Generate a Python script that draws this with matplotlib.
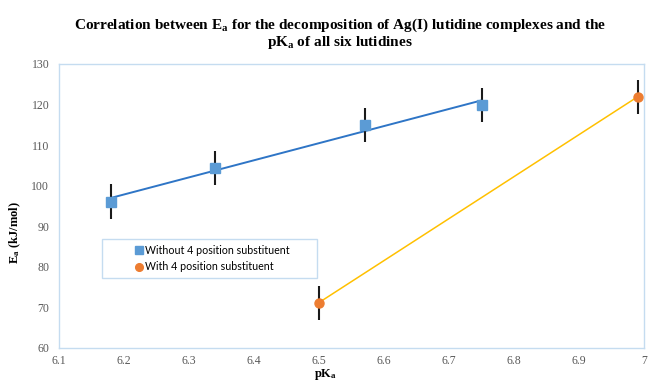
import matplotlib
matplotlib.use('Agg')
import matplotlib.pyplot as plt
from matplotlib.patches import Rectangle
from matplotlib.ticker import FuncFormatter
import numpy as np

# Lutidines without a 4-position substituent
pka_without = [6.18, 6.34, 6.57, 6.75]
ea_without = [96.1, 104.3, 115.0, 119.8]
err_without = [4.2, 4.2, 4.2, 4.2]

# Lutidines with a 4-position substituent
pka_with = [6.50, 6.99]
ea_with = [71.2, 121.9]
err_with = [4.2, 4.2]

labels = ['Without 4 position substituent', 'With 4 position substituent']
xticks = [6.1, 6.2, 6.3, 6.4, 6.5, 6.6, 6.7, 6.8, 6.9, 7.0]
yticks = [60, 70, 80, 90, 100, 110, 120, 130]

plt.rcParams.update({'mathtext.fontset': 'custom',
                     'mathtext.rm': 'Liberation Serif',
                     'mathtext.bf': 'Liberation Serif:bold',
                     'mathtext.it': 'Liberation Serif:italic'})

W, H = 648, 386
fig = plt.figure(figsize=(W / 100, H / 100), dpi=100)
ax = fig.add_axes([59 / W, 1 - 348 / H, 585 / W, 284 / H])

frame_col = '#c5dcf0'
for s in ax.spines.values():
    s.set_color(frame_col)
    s.set_linewidth(1.0)

# linear trendlines from the data
for xs, ys, col, lw in [(pka_without, ea_without, '#2e75c6', 1.4),
                        (pka_with, ea_with, '#ffc000', 1.1)]:
    k, b = np.polyfit(xs, ys, 1)
    xx = np.array([min(xs), max(xs)])
    ax.plot(xx, k * xx + b, color=col, lw=lw, zorder=2)

ax.errorbar(pka_without, ea_without, yerr=err_without, fmt='none', ecolor='#1a1a1a',
            elinewidth=1.5, capsize=0, zorder=3)
ax.errorbar(pka_with, ea_with, yerr=err_with, fmt='none', ecolor='#1a1a1a',
            elinewidth=1.5, capsize=0, zorder=3)
h1, = ax.plot(pka_without, ea_without, ls='none', marker='s', ms=6.5, color='#5b9bd5',
              mec='#5b9bd5', zorder=4, label=labels[0])
h2, = ax.plot(pka_with, ea_with, ls='none', marker='o', ms=6.5, color='#ed7d31',
              mec='#ed7d31', zorder=4, label=labels[1])

ax.set_xlim(6.1, 7.0)
ax.set_ylim(60, 130)
ax.set_xticks(xticks)
ax.set_yticks(yticks)
ax.xaxis.set_major_formatter(FuncFormatter(lambda v, p: f'{v:g}'))
ax.tick_params(length=0, colors='#595959', labelsize=8.5)
ax.tick_params(axis='x', pad=5)
ax.tick_params(axis='y', pad=7)
for t in ax.get_xticklabels() + ax.get_yticklabels():
    t.set_fontfamily('Liberation Serif')

# legend with its own frame
x0, x1, y0, y1 = 0.073, 0.4405, 0.246, 0.383
ax.add_patch(Rectangle((x0, y0), x1 - x0, y1 - y0, transform=ax.transAxes, fill=False,
                       ec=frame_col, lw=1.0, zorder=5))
ax.legend(handles=[h1, h2], loc='center', bbox_to_anchor=(0.263, 0.315), frameon=False,
          prop={'family': 'Lato', 'size': 7.7}, handlelength=0.5, handletextpad=0.35,
          labelspacing=0.55, markerscale=0.85, borderpad=0)

fig.text(340 / W, 1 - 25 / H,
         r'Correlation between $\mathbf{E_a}$ for the decomposition of Ag(I) lutidine complexes and the',
         ha='center', va='center', family='Liberation Serif', weight='bold', fontsize=11)
fig.text(340 / W, 1 - 42.5 / H, r'p$\mathbf{K_a}$ of all six lutidines',
         ha='center', va='center', family='Liberation Serif', weight='bold', fontsize=11)
fig.text(326 / W, 1 - 375 / H, r'p$\mathbf{K_a}$', ha='center', va='center',
         family='Liberation Serif', weight='bold', fontsize=9)
fig.text(15 / W, 1 - 233 / H, r'$\mathbf{E_a}$ (kJ/mol)', ha='center', va='center',
         rotation=90, family='Liberation Serif', weight='bold', fontsize=9)

fig.savefig('out.png', dpi=100)
